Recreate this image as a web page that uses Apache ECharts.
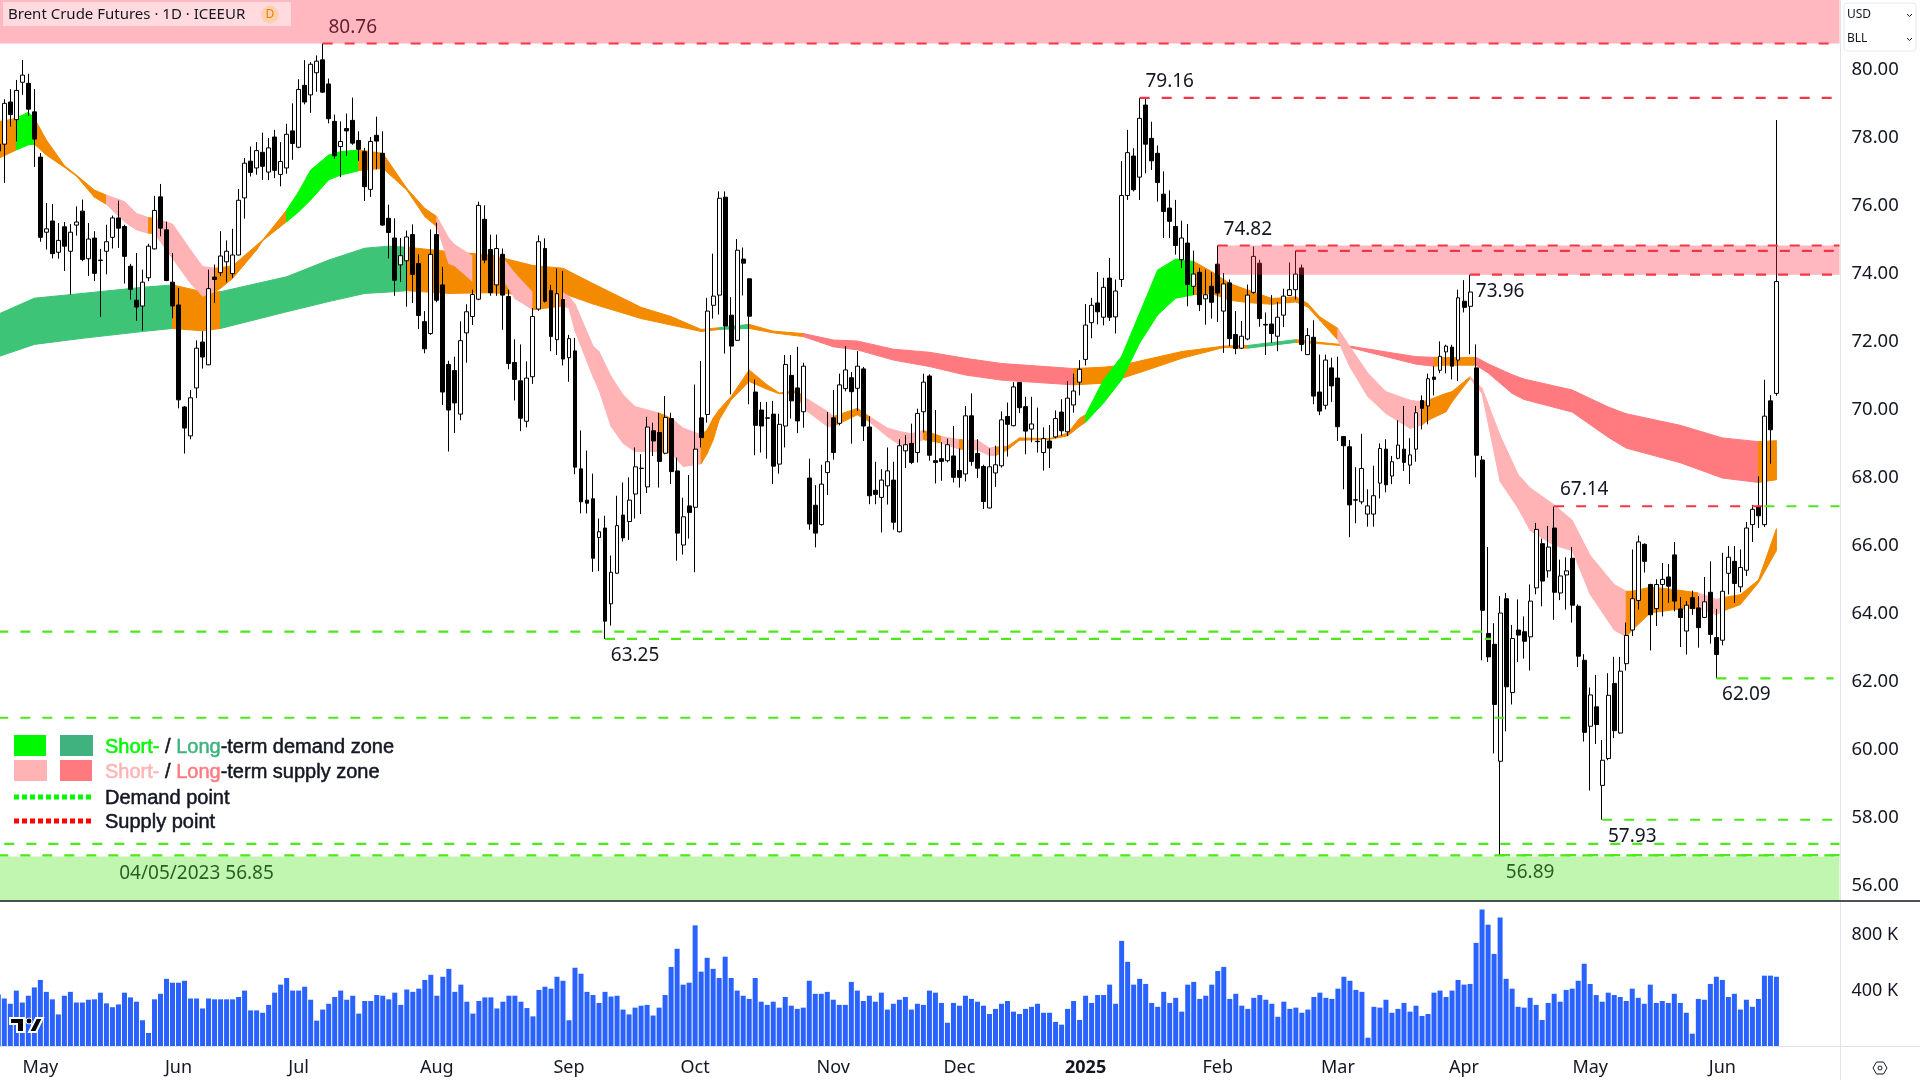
<!DOCTYPE html>
<html>
<head>
<meta charset="utf-8">
<title>Brent Crude Futures</title>
<script src="https://cdn.jsdelivr.net/npm/echarts@6/dist/echarts.min.js"></script>
<style>
  html, body { margin: 0; padding: 0; background: #fff; }
  #chart { width: 1920px; height: 1080px; }
</style>
</head>
<body>
<div id="chart"></div>
<script>
var barCount = 307;

var opens = [
  77.8,77.8,79.04,78.52,79.62,79.59,78.75,77.42,75.21,75.54,
  74.62,75.37,74.65,75.42,75.83,74.43,75.04,74.39,74.65,75.06,
  75.63,75.38,74.21,73.21,73.04,73.87,74.72,76.25,75.28,73.74,
  73.07,70.07,69.22,70.63,71.98,71.31,73.89,74.02,74.34,73.99,
  74.54,76.22,77.3,77.1,77.56,76.98,78.01,76.91,77.1,78.19,
  77.71,79.53,79.25,79.9,80.28,79.57,78.47,77.73,78.26,78.5,
  77.91,77.58,76.47,78.06,77.53,75.62,75.04,74.25,74.37,75.14,
  74.29,72.58,72.23,75.14,73.66,71.32,71.14,69.86,72.25,72.73,
  73.24,75.59,74.7,73.66,74.56,73.32,71.38,70.84,69.65,70.96,
  72.95,74.73,73.49,72.05,73.23,71.52,71.72,68.25,67.33,67.37,
  66.23,66.51,64.28,65.18,66.89,66.7,67.51,68.27,67.72,69.37,
  69.32,68.71,69.73,68.19,66.01,67.16,67.12,69.75,69.85,73.06,
  73.36,76.24,72.77,72.03,74.42,73.84,70.51,69.98,69.75,69.86,
  68.39,69.51,71.0,70.63,69.93,67.98,67.18,66.61,68.14,69.75,
  69.59,70.61,70.93,70.62,71.19,69.48,67.62,67.41,67.75,67.92,
  66.4,68.78,69.0,68.73,69.93,70.98,68.49,68.55,68.49,68.63,
  68.2,68.1,69.81,68.7,68.32,67.1,68.13,68.34,69.79,69.52,
  70.79,70.08,69.42,69.06,68.73,69.07,69.19,69.92,69.34,70.13,
  70.8,71.47,72.55,73.13,72.71,73.86,72.72,73.82,76.29,77.45,
  76.83,78.95,77.97,77.53,76.33,75.92,75.38,74.4,74.89,73.62,
  74.03,73.25,73.62,74.27,72.89,73.72,72.2,71.8,72.07,73.44,
  74.3,72.5,72.51,72.15,72.77,73.35,73.52,74.16,71.61,72.12,
  70.51,70.12,71.22,70.92,69.2,68.9,67.34,67.28,66.92,66.92,
  67.83,68.83,68.04,68.56,68.83,68.36,68.83,70.26,70.1,70.95,
  71.15,71.69,71.83,71.45,73.18,73.03,71.22,68.51,63.41,63.09,
  59.65,64.43,61.67,63.51,63.46,63.31,64.75,66.05,65.25,66.51,
  64.6,65.13,65.62,64.21,62.62,60.68,61.25,58.94,59.73,61.94,
  60.48,62.52,63.51,64.38,66.03,64.85,64.14,64.85,65.07,65.72,
  64.13,63.48,64.46,64.16,63.88,64.62,63.29,63.21,65.18,65.53,
  64.78,65.27,66.61,67.14,66.61,70.25,70.47
];
var closes = [
  77.6,79.0,78.67,79.38,79.83,78.83,77.95,75.06,75.31,74.58,
  74.97,74.8,75.21,75.51,74.41,75.01,74.0,74.38,74.93,75.63,
  75.33,74.5,73.53,73.01,73.74,74.8,75.85,75.33,73.79,73.04,
  70.28,69.45,70.34,71.8,71.54,73.55,73.82,74.51,74.65,74.54,
  76.15,77.24,76.97,77.61,77.15,77.69,77.03,77.29,78.09,77.82,
  79.41,79.04,80.15,80.24,79.33,78.55,77.46,77.88,78.19,77.83,
  77.65,76.55,77.88,77.89,75.42,75.2,73.8,74.52,75.07,73.97,
  72.76,71.78,74.56,73.21,70.51,69.98,70.19,72.02,72.87,73.38,
  76.0,74.39,73.43,74.73,73.36,71.35,70.88,69.74,70.92,72.73,
  74.93,73.18,72.14,73.4,71.48,72.08,68.3,67.28,67.24,65.62,
  66.4,63.77,65.21,66.58,66.22,67.33,68.31,68.26,69.48,69.07,
  68.47,69.76,68.17,66.36,66.84,66.97,68.83,69.17,72.89,73.33,
  76.21,72.45,71.86,74.68,74.3,72.74,69.53,69.51,69.74,68.33,
  69.56,71.32,70.25,69.66,71.27,66.63,66.36,67.8,68.46,68.73,
  70.72,71.16,70.52,71.27,69.51,67.46,67.5,67.92,68.19,66.68,
  68.93,68.96,68.44,69.88,70.8,68.65,68.44,68.47,68.96,68.0,
  68.0,69.81,68.47,68.27,67.29,68.31,68.37,69.69,69.56,70.66,
  70.05,69.36,69.57,69.05,69.14,68.86,69.73,69.37,70.33,70.54,
  71.18,72.48,73.06,72.87,73.59,72.71,73.48,76.29,77.55,76.46,
  78.56,77.8,77.31,76.67,75.82,75.53,74.82,75.04,73.67,73.98,
  73.08,73.37,73.15,73.42,73.69,72.08,71.79,72.15,73.36,74.5,
  72.67,72.48,72.23,72.71,73.33,73.52,73.98,71.91,72.17,70.39,
  69.95,71.45,70.69,69.49,68.93,67.19,67.33,68.26,67.16,67.46,
  68.85,67.78,68.46,68.95,68.44,68.66,69.9,70.03,70.9,70.88,
  71.56,71.86,71.27,73.28,73.0,73.45,68.65,64.09,62.72,61.32,
  64.01,61.84,63.26,63.36,63.18,64.36,66.47,64.95,65.95,64.62,
  65.1,65.25,64.24,62.74,60.5,61.6,60.73,59.68,61.59,60.55,
  62.3,63.35,64.43,66.1,65.53,63.96,64.85,65.0,64.8,64.36,
  63.88,64.24,64.14,63.58,64.34,63.38,62.79,64.65,65.65,64.88,
  65.35,66.51,67.06,66.87,69.8,69.4,73.76
];
var lows = [
  77.3,76.66,78.32,77.88,79.25,78.63,77.13,74.93,74.7,74.44,
  74.43,74.07,73.38,75.11,74.36,73.92,73.77,72.72,73.97,74.73,
  74.75,73.7,73.23,72.6,72.32,73.77,74.7,75.09,73.77,72.68,
  70.03,68.7,69.12,70.33,71.2,71.3,73.13,73.92,73.74,73.87,
  74.53,75.61,76.85,76.9,76.75,76.74,76.8,76.56,76.93,77.34,
  77.68,78.97,78.72,79.34,79.31,78.41,77.37,76.83,77.46,77.78,
  77.31,76.13,76.25,77.06,75.4,74.44,73.34,73.75,73.02,73.13,
  72.36,71.65,72.19,73.15,70.13,68.76,69.3,69.68,71.37,72.48,
  73.21,74.3,73.34,73.34,72.34,71.18,70.26,69.36,69.47,70.75,
  72.9,73.14,71.71,71.6,71.29,70.81,68.09,66.94,66.94,65.22,
  65.24,63.25,63.64,65.16,66.11,66.16,66.79,66.92,67.54,68.63,
  67.7,68.68,67.8,65.55,65.73,66.2,65.21,68.88,69.61,72.67,
  72.79,71.64,70.44,72.01,73.35,70.15,68.65,68.73,68.55,67.8,
  68.11,68.88,69.73,69.3,69.46,66.46,65.94,66.58,67.48,68.52,
  69.53,70.53,68.99,69.95,69.07,67.21,67.21,66.38,67.2,66.46,
  66.38,68.27,68.39,68.44,69.32,68.49,67.82,67.9,68.44,67.85,
  67.7,67.88,68.34,67.98,67.07,67.09,67.72,68.29,68.61,69.5,
  69.89,68.68,69.03,68.73,68.2,68.27,69.15,69.22,69.22,69.9,
  70.41,71.29,72.09,72.5,72.47,72.6,72.23,73.6,76.16,76.41,
  76.16,76.94,77.04,76.11,75.04,75.04,74.55,74.16,73.03,73.37,
  72.89,72.49,72.67,72.57,71.66,71.86,71.62,71.78,72.03,73.4,
  72.43,71.6,71.96,71.71,72.42,73.33,73.23,71.71,71.6,70.15,
  69.83,70.0,70.22,69.07,67.65,66.24,66.65,67.21,66.55,66.55,
  67.38,67.56,67.8,68.53,68.19,67.8,68.46,69.41,69.56,70.41,
  71.06,71.06,70.88,70.83,72.85,71.62,68.0,62.62,62.57,59.88,
  56.89,60.53,61.32,62.57,62.67,62.32,64.56,64.21,65.05,63.81,
  64.39,64.11,63.73,62.42,60.23,58.79,60.16,57.93,59.68,60.33,
  60.46,62.32,63.33,64.11,65.2,62.91,63.63,63.91,64.31,64.06,
  63.01,62.79,63.96,62.99,63.86,63.11,62.09,63.06,64.56,64.31,
  64.62,65.1,66.1,66.51,66.54,68.4,70.4
];
var highs = [
  78.5,79.12,79.42,79.69,80.28,79.87,79.42,77.54,76.07,76.04,
  75.48,75.51,75.45,75.97,76.17,75.48,75.24,74.72,75.43,75.7,
  76.14,75.43,74.28,74.6,74.11,74.87,76.28,76.63,75.52,74.6,
  73.57,70.1,70.57,72.03,72.3,74.11,74.26,75.24,74.97,75.31,
  76.48,77.39,77.73,77.86,78.14,77.98,78.22,77.86,78.4,79.0,
  79.71,80.27,80.21,80.41,80.76,79.73,78.67,78.47,78.7,79.17,
  78.18,77.69,78.01,78.61,78.18,76.02,75.62,75.04,75.26,75.44,
  74.56,72.89,75.29,75.49,74.19,71.43,71.55,72.59,73.09,73.52,
  76.11,76.0,75.14,75.14,74.73,73.52,72.06,71.91,71.41,72.98,
  75.12,75.03,73.66,74.14,74.07,72.19,72.1,69.38,68.79,68.11,
  66.79,66.87,65.7,67.46,67.85,68.0,68.88,68.68,69.78,69.61,
  69.9,70.39,69.9,68.58,67.4,68.07,70.73,71.42,73.28,74.58,
  76.41,76.41,73.3,75.01,74.76,73.85,70.88,70.22,70.22,70.25,
  69.87,71.6,71.6,71.84,71.37,68.55,67.77,68.37,69.92,70.57,
  71.05,71.86,71.1,71.71,71.25,69.8,68.46,68.24,68.88,68.46,
  69.12,69.24,69.58,70.02,71.05,71.03,69.98,69.04,69.14,69.51,
  68.85,70.1,70.47,69.12,68.37,68.85,68.93,69.94,70.2,70.8,
  70.8,70.37,70.37,70.05,69.47,69.54,69.97,70.3,70.83,71.05,
  71.45,73.1,73.28,74.04,73.87,74.45,73.82,77.3,78.22,77.68,
  79.16,79.14,78.46,77.76,77.0,76.44,76.16,75.55,75.45,74.67,
  74.16,74.11,74.03,74.82,74.01,73.82,72.89,72.6,73.67,74.79,
  74.4,72.85,73.36,73.16,73.55,74.32,74.67,74.26,72.39,72.62,
  71.61,71.61,71.52,71.55,69.22,69.1,68.3,69.28,67.65,68.34,
  69.0,69.12,68.63,69.68,70.1,69.15,70.1,70.41,71.05,71.27,
  72.0,71.9,71.9,73.52,73.8,73.96,71.91,68.63,65.95,63.71,
  64.51,64.6,63.66,64.41,63.91,64.85,66.66,66.2,66.57,67.14,
  65.58,65.65,65.95,64.26,62.8,61.82,62.19,60.28,62.24,62.72,
  62.72,63.73,65.88,66.29,66.06,64.87,65.0,65.48,65.45,66.1,
  64.48,64.36,64.67,64.51,65.07,65.53,64.13,65.78,65.98,65.98,
  65.88,66.69,67.19,68.03,70.87,70.42,78.51
];
var volumes = [
  371,343,305,400,314,363,423,477,391,337,
  228,363,391,314,314,334,337,385,308,280,
  300,385,351,320,186,94,337,377,485,457,
  457,471,343,343,271,343,337,337,337,337,
  354,400,257,257,240,297,385,443,491,400,
  400,428,334,183,263,305,354,400,334,363,
  234,325,325,368,363,337,385,297,408,391,
  414,477,514,363,500,557,391,443,320,234,
  325,351,351,271,320,363,363,320,274,214,
  405,428,414,500,471,186,565,522,391,368,
  311,391,357,363,263,228,277,291,297,220,
  277,368,571,702,443,457,871,537,637,557,
  491,645,491,400,363,340,491,320,297,320,
  277,354,291,268,277,471,377,377,391,334,
  297,297,463,400,325,363,320,385,263,305,
  334,354,263,305,297,400,385,311,168,311,
  291,363,340,320,291,231,268,305,325,248,
  231,268,283,305,240,240,174,154,268,325,
  188,363,311,368,368,443,305,759,608,443,
  485,448,311,283,391,311,348,248,443,463,
  340,363,443,542,571,340,377,291,268,348,
  368,334,305,211,320,268,277,240,263,354,
  385,348,340,414,500,471,405,391,60,283,
  277,334,240,268,311,248,291,217,231,385,
  400,354,400,477,443,448,745,985,876,665,
  928,485,414,283,277,348,297,188,311,377,
  320,405,414,471,594,448,368,320,385,368,
  354,325,414,348,305,443,311,325,311,377,
  311,240,89,340,334,448,500,477,354,377,
  263,334,283,340,508,508,500
];

// short-term ribbon, zone index of a point colours the segment starting there
var shortBars = [0,3,5,6,8,11,13,16,18,21,23,25,26,29,32,34,36,37,39,43,44,48,50,52,55,57,60,64,68,71,73,75,76,79,84,86,89,94,95,96,99,100,102,104,106,110,112,114,117,118,119,120,122,125,128,130,133,134,138,139,143,145,148,150,152,154,157,160,161,163,165,166,168,170,175,178,180,181,184,187,190,193,196,199,202,205,208,212,216,218,220,223,225,228,231,235,237,238,241,242,245,247,250,253,255,259,262,265,269,271,272,275,279,283,286,287,290,293,296];
var shortTop = [78.46,78.56,78.74,78.56,77.92,77.17,76.89,76.45,76.3,76.11,75.76,75.64,75.62,75.45,74.69,74.2,74.15,74.17,74.22,74.83,74.98,75.86,76.4,77.04,77.48,77.58,77.63,77.53,76.5,75.91,75.67,75.03,74.84,74.5,74.45,74.0,73.43,73.43,73.32,73.1,71.86,71.7,70.97,70.43,70.08,69.89,69.74,69.45,69.25,69.4,69.74,69.99,70.38,71.16,70.72,70.48,70.55,70.38,69.94,69.79,70.03,69.79,69.45,69.35,69.28,69.38,69.2,69.11,69.1,69.09,68.86,68.89,68.91,69.16,69.14,69.3,69.74,69.84,70.87,71.56,72.83,74.1,74.42,74.35,74.05,73.7,73.51,73.26,73.31,73.11,72.72,72.38,71.84,71.06,70.52,70.27,70.22,70.27,70.47,70.52,70.96,70.62,69.23,68.08,67.69,67.19,66.74,65.7,64.85,64.65,64.65,64.77,64.7,64.6,64.41,64.46,64.55,64.98,66.49];
var shortBottom = [77.38,77.63,77.78,77.8,77.48,77.12,76.86,76.24,76.03,75.52,75.28,75.18,75.18,74.44,73.71,73.33,73.46,73.56,73.85,74.69,74.96,75.52,75.81,76.16,76.75,76.89,77.02,77.09,76.45,75.67,75.37,74.29,74.22,73.75,73.83,73.26,72.93,73.04,72.98,72.31,70.96,70.57,69.5,69.0,68.76,68.76,68.71,68.32,68.4,68.7,69.1,69.69,70.28,70.82,70.59,70.46,70.49,70.03,69.5,69.5,69.84,69.64,69.2,68.96,68.96,69.11,69.01,68.83,68.82,68.81,68.64,68.64,68.81,69.09,69.12,69.22,69.5,69.62,70.19,70.87,71.95,72.78,73.27,73.37,73.41,73.21,73.14,73.09,73.16,73.01,72.62,72.04,71.25,70.37,69.88,69.44,69.54,69.68,69.93,70.22,70.91,70.47,67.88,67.09,66.44,66.0,65.85,64.56,63.51,63.31,63.51,64.01,64.11,64.16,63.96,64.06,64.26,64.9,65.85];
var shortZone = [1,0,0,1,1,1,1,1,2,2,2,1,2,2,2,2,1,1,1,1,1,0,0,0,0,0,1,1,1,1,2,2,2,1,2,2,1,2,2,2,2,2,2,2,2,1,2,2,1,1,1,1,1,1,1,1,1,2,2,1,1,2,2,2,2,1,2,1,2,2,2,1,1,1,1,1,1,0,0,0,0,0,0,1,1,1,1,1,1,1,1,2,2,2,2,2,1,1,1,1,2,2,2,2,2,2,2,2,2,1,1,1,1,2,2,1,1,1,1];

// long-term ribbon
var longBars = [0,6,14,24,29,34,37,48,55,61,65,68,75,82,89,94,99,107,112,117,120,125,129,134,139,143,149,155,161,167,179,184,187,192,197,204,208,216,220,224,225,231,236,239,241,246,248,252,254,262,268,271,280,287,293,296];
var longTop = [72.8,73.27,73.41,73.59,73.66,73.46,73.46,73.9,74.39,74.74,74.8,74.77,74.64,74.54,74.23,74.15,73.7,73.0,72.73,72.35,72.4,72.5,72.3,72.23,72.04,72.01,71.77,71.68,71.5,71.35,71.2,71.24,71.3,71.5,71.7,71.86,71.88,72.05,71.97,71.9,71.86,71.69,71.55,71.53,71.52,71.53,71.34,71.02,70.89,70.57,70.07,69.87,69.53,69.16,69.05,69.08];
var longBottom = [71.55,71.91,72.09,72.29,72.38,72.31,72.38,72.87,73.17,73.41,73.45,73.49,73.41,73.43,73.36,73.41,73.1,72.67,72.48,72.29,72.35,72.38,72.25,72.14,71.84,71.75,71.45,71.26,71.01,70.86,70.72,70.77,70.91,71.2,71.5,71.82,71.8,71.97,71.93,71.87,71.82,71.55,71.33,71.27,71.3,71.3,71.07,70.47,70.29,69.92,69.18,68.86,68.43,67.98,67.85,67.93];
var longZone = [3,3,3,3,1,1,3,3,3,3,3,1,1,1,1,1,1,1,1,1,3,1,1,4,4,4,4,4,4,4,1,1,1,1,1,1,3,1,1,1,4,4,4,1,1,4,4,4,4,4,4,4,4,4,1,1];

var priceTicks = [56,58,60,62,64,66,68,70,72,74,76,78,80];
var volumeTicks = [400,800];
var timeBars = [7,30,50,73,95,116,139,160,181,203,223,244,265,287];
var timeLabels = ["May","Jun","Jul","Aug","Sep","Oct","Nov","Dec","2025","Feb","Mar","Apr","May","Jun"];

// printed numbers: bar under the text, level the text sits on, the text
var noteBars = [59,195,208,250,264,106,291,272,255,33];
var noteLevels = [81.24,79.64,75.30,73.46,67.63,62.75,61.60,57.42,56.39,56.36];
var noteTexts = ["80.76","79.16","74.82","73.96","67.14","63.25","62.09","57.93","56.89","04/05/2023 56.85"];

// flat zones over the candles: start bar, top, bottom, kind
var zoneFrom = [0,203,0];
var zoneTop = [82.04,74.82,56.85];
var zoneBottom = [80.76,73.96,55.54];
var zoneKind = [0,0,1];

// dashed levels: price, first bar, last bar, kind (0 supply, 1 demand)
var levelPrice = [80.76,79.16,74.82,74.66,73.96,67.15,67.15,63.46,63.25,62.09,60.93,57.93,57.22,56.88,56.89];
var levelFrom = [54,190,203,216,245,259,294,0,101,286,0,267,1,0,250];
var levelTo = [306,305,306,306,306,294,306,247,248,305,262,305,306,306,306];
var levelKind = [0,0,0,0,0,0,1,1,1,1,1,1,1,1,1];

var ribbonColors = ["#00f800","#f48a00","#ffb3b5","#3dc476","#ff7a7f"];
var zoneColors = ["rgba(255,45,70,0.34)","rgba(76,230,30,0.35)"];
var levelColors = ["#f23645","#4ce81a"];
var textFont = "Noto Sans";

var categories = [];
for (var i = 0; i < barCount; i++) categories.push(String(i));

var candleData = opens.map(function (o, i) {
  return [o, closes[i], lows[i], highs[i]];
});

function ribbonSegments(bars, top, bottom, zone) {
  var out = [];
  for (var i = 0; i < bars.length - 1; i++) {
    out.push([bars[i], top[i], bottom[i], bars[i + 1], top[i + 1], bottom[i + 1], zone[i]]);
  }
  return out;
}

function renderRibbon(params, api) {
  var a = api.coord([api.value(0), api.value(1)]);
  var b = api.coord([api.value(3), api.value(4)]);
  var c = api.coord([api.value(3), api.value(5)]);
  var d = api.coord([api.value(0), api.value(2)]);
  var color = ribbonColors[api.value(6)];
  return {
    type: "polygon",
    shape: { points: [a, b, c, d] },
    style: { fill: color, stroke: color, lineWidth: 1 }
  };
}

function renderZone(params, api) {
  var sys = params.coordSys;
  var start = api.value(0);
  var p1 = api.coord([start, api.value(1)]);
  var p2 = api.coord([start, api.value(2)]);
  var x0 = start === 0 ? 0 : p1[0];
  return {
    type: "rect",
    shape: { x: x0, y: p1[1], width: sys.x + sys.width - x0, height: p2[1] - p1[1] },
    style: { fill: zoneColors[api.value(3)] }
  };
}

function renderLevel(params, api) {
  var p1 = api.coord([api.value(1), api.value(0)]);
  var p2 = api.coord([api.value(2), api.value(0)]);
  return {
    type: "line",
    shape: { x1: p1[0], y1: p1[1], x2: p2[0] + 3, y2: p2[1] },
    style: { stroke: levelColors[api.value(3)], lineWidth: 2.2, lineDash: [10, 12] }
  };
}

var myChart = echarts.init(document.getElementById("chart"));
myChart.setOption({
  animation: false,
  backgroundColor: "#ffffff",
  textStyle: { fontFamily: textFont },
  grid: [
    { left: -4.7, top: 0, width: 1844.2, height: 901, outerBoundsMode: "none" },
    { left: -4.7, top: 901, width: 1844.2, height: 145, outerBoundsMode: "none" }
  ],
  xAxis: [
    { type: "category", gridIndex: 0, data: categories, show: false },
    {
      type: "category",
      gridIndex: 1,
      data: categories,
      axisLine: { show: false },
      axisTick: { show: false },
      splitLine: { show: false },
      axisLabel: {
        interval: function (index) { return timeBars.indexOf(index) >= 0; },
        hideOverlap: false,
        margin: 13,
        color: "#131722",
        fontSize: 18,
        fontFamily: textFont,
        formatter: function (value, index) {
          var t = timeLabels[timeBars.indexOf(index)];
          return t === "2025" ? "{b|" + t + "}" : t;
        },
        rich: { b: { fontWeight: "bold", fontSize: 18, color: "#131722", fontFamily: textFont } }
      }
    }
  ],
  yAxis: [
    {
      type: "value",
      gridIndex: 0,
      position: "right",
      min: 55.54,
      max: 82.04,
      axisLine: { show: false },
      axisTick: { show: false },
      splitLine: { show: false },
      axisLabel: {
        customValues: priceTicks,
        margin: 12,
        padding: [6, 0, 0, 0],
        color: "#131722",
        fontSize: 18.5,
        fontFamily: textFont,
        formatter: function (v) { return v.toFixed(2); }
      }
    },
    {
      type: "value",
      gridIndex: 1,
      position: "right",
      min: 0,
      max: 1047,
      axisLine: { show: false },
      axisTick: { show: false },
      splitLine: { show: false },
      axisLabel: {
        customValues: volumeTicks,
        margin: 12,
        padding: [6, 0, 0, 0],
        color: "#131722",
        fontSize: 18,
        fontFamily: textFont,
        formatter: function (v) { return v + " K"; }
      }
    }
  ],
  series: [
    {
      name: "Long ribbon",
      type: "custom",
      z: 1,
      silent: true,
      renderItem: renderRibbon,
      encode: { x: [0, 3], y: [1, 2, 4, 5] },
      data: ribbonSegments(longBars, longTop, longBottom, longZone)
    },
    {
      name: "Short ribbon",
      type: "custom",
      z: 2,
      silent: true,
      renderItem: renderRibbon,
      encode: { x: [0, 3], y: [1, 2, 4, 5] },
      data: ribbonSegments(shortBars, shortTop, shortBottom, shortZone)
    },
    {
      name: "Brent",
      type: "candlestick",
      z: 5,
      silent: true,
      barWidth: 4.4,
      itemStyle: {
        color: "#ffffff",
        color0: "#000000",
        borderColor: "#000000",
        borderColor0: "#000000",
        borderWidth: 1
      },
      data: candleData
    },
    {
      name: "Notes",
      type: "scatter",
      z: 6,
      silent: true,
      symbolSize: 1,
      itemStyle: { color: "rgba(0,0,0,0)", opacity: 1 },
      label: {
        show: true,
        position: "inside",
        color: "#131722",
        fontSize: 19,
        fontFamily: textFont,
        formatter: function (p) { return noteTexts[p.dataIndex]; }
      },
      data: noteBars.map(function (b, i) { return [b, noteLevels[i]]; })
    },
    {
      name: "Zones",
      type: "custom",
      z: 8,
      silent: true,
      renderItem: renderZone,
      encode: { x: 0, y: [1, 2] },
      data: zoneFrom.map(function (b, i) { return [b, zoneTop[i], zoneBottom[i], zoneKind[i]]; })
    },
    {
      name: "Levels",
      type: "custom",
      z: 9,
      silent: true,
      renderItem: renderLevel,
      encode: { x: [1, 2], y: 0 },
      data: levelPrice.map(function (p, i) { return [p, levelFrom[i], levelTo[i], levelKind[i]]; })
    },
    {
      name: "Volume",
      type: "bar",
      xAxisIndex: 1,
      yAxisIndex: 1,
      silent: true,
      barWidth: 5,
      itemStyle: { color: "#2962ff" },
      data: volumes
    }
  ],
  graphic: [
    // panes and frame
    { type: "line", z: 50, shape: { x1: 1840.5, y1: 0, x2: 1840.5, y2: 1080 }, style: { stroke: "#e0e3eb", lineWidth: 1 } },
    { type: "line", z: 50, shape: { x1: 0, y1: 901, x2: 1920, y2: 901 }, style: { stroke: "#131722", lineWidth: 1.5 } },
    { type: "line", z: 50, shape: { x1: 0, y1: 1046.5, x2: 1920, y2: 1046.5 }, style: { stroke: "#e0e3eb", lineWidth: 1 } },
    // title chip
    { type: "rect", z: 50, shape: { x: 3, y: 2, width: 288, height: 24 }, style: { fill: "rgba(255,255,255,0.5)" } },
    { type: "text", z: 51, x: 8, y: 14.7, style: { text: "Brent Crude Futures · 1D · ICEEUR", fill: "#131722", fontFamily: textFont, fontSize: 15, verticalAlign: "middle" } },
    { type: "circle", z: 51, shape: { cx: 270, cy: 14.7, r: 9 }, style: { fill: "#fdd0b0" } },
    { type: "text", z: 52, x: 270, y: 14.7, style: { text: "D", fill: "#f57c00", fontFamily: textFont, fontSize: 12, align: "center", verticalAlign: "middle" } },
    // currency and unit box
    { type: "rect", z: 50, shape: { x: 1844, y: 3, width: 72, height: 48, r: 3 }, style: { fill: "#ffffff", stroke: "#e8eaf0", lineWidth: 1 } },
    { type: "text", z: 51, x: 1847, y: 14.7, style: { text: "USD", fill: "#131722", fontFamily: textFont, fontSize: 12, verticalAlign: "middle" } },
    { type: "text", z: 51, x: 1847, y: 38.7, style: { text: "BLL", fill: "#131722", fontFamily: textFont, fontSize: 12, verticalAlign: "middle" } },
    { type: "polyline", z: 51, shape: { points: [[1907, 14], [1909.5, 16.5], [1912, 14]] }, style: { stroke: "#131722", lineWidth: 1, fill: null } },
    { type: "polyline", z: 51, shape: { points: [[1907, 38], [1909.5, 40.5], [1912, 38]] }, style: { stroke: "#131722", lineWidth: 1, fill: null } },
    // legend
    { type: "rect", z: 50, shape: { x: 14, y: 735, width: 32, height: 21 }, style: { fill: "#00f800" } },
    { type: "rect", z: 50, shape: { x: 60, y: 735, width: 33, height: 21 }, style: { fill: "#3fb27f" } },
    { type: "rect", z: 50, shape: { x: 14, y: 760, width: 33, height: 21 }, style: { fill: "#ffb3b5" } },
    { type: "rect", z: 50, shape: { x: 60, y: 760, width: 32, height: 21 }, style: { fill: "#ff7a7f" } },
    { type: "line", z: 50, shape: { x1: 14, y1: 797, x2: 92, y2: 797 }, style: { stroke: "#00f800", lineWidth: 5, lineDash: [5, 3] } },
    { type: "line", z: 50, shape: { x1: 14, y1: 821, x2: 92, y2: 821 }, style: { stroke: "#ff0000", lineWidth: 5, lineDash: [5, 3] } },
    {
      type: "text", z: 51, x: 105, y: 747,
      style: {
        text: "{g|Short-} {k|/} {d|Long}{k|-term demand zone}",
        fontFamily: "Liberation Sans", fontSize: 20, verticalAlign: "middle",
        rich: {
          g: { fill: "#00f800", stroke: "#00f800", lineWidth: 0.5, fontFamily: "Liberation Sans", fontSize: 20 },
          d: { fill: "#3fb27f", stroke: "#3fb27f", lineWidth: 0.5, fontFamily: "Liberation Sans", fontSize: 20 },
          k: { fill: "#131722", stroke: "#131722", lineWidth: 0.5, fontFamily: "Liberation Sans", fontSize: 20 }
        }
      }
    },
    {
      type: "text", z: 51, x: 105, y: 772.6,
      style: {
        text: "{g|Short-} {k|/} {d|Long}{k|-term supply zone}",
        fontFamily: "Liberation Sans", fontSize: 20, verticalAlign: "middle",
        rich: {
          g: { fill: "#ffb3b5", stroke: "#ffb3b5", lineWidth: 0.5, fontFamily: "Liberation Sans", fontSize: 20 },
          d: { fill: "#ff7a7f", stroke: "#ff7a7f", lineWidth: 0.5, fontFamily: "Liberation Sans", fontSize: 20 },
          k: { fill: "#131722", stroke: "#131722", lineWidth: 0.5, fontFamily: "Liberation Sans", fontSize: 20 }
        }
      }
    },
    { type: "text", z: 51, x: 105, y: 798.5, style: { text: "Demand point", fill: "#131722", stroke: "#131722", lineWidth: 0.5, fontFamily: "Liberation Sans", fontSize: 20, verticalAlign: "middle" } },
    { type: "text", z: 51, x: 105, y: 822.6, style: { text: "Supply point", fill: "#131722", stroke: "#131722", lineWidth: 0.5, fontFamily: "Liberation Sans", fontSize: 20, verticalAlign: "middle" } },
    // logo
    { type: "polygon", z: 51, shape: { points: [[10, 1018], [24, 1018], [24, 1032], [17, 1032], [17, 1024], [10, 1024]] }, style: { fill: "#000", stroke: "#fff", lineWidth: 2 } },
    { type: "circle", z: 51, shape: { cx: 29, cy: 1021, r: 3 }, style: { fill: "#000", stroke: "#fff", lineWidth: 1 } },
    { type: "polygon", z: 51, shape: { points: [[36, 1018], [43, 1018], [36, 1032], [29, 1032]] }, style: { fill: "#000", stroke: "#fff", lineWidth: 2 } },
    // settings glyph
    { type: "polygon", z: 51, shape: { points: [[1873, 1068], [1876.5, 1062], [1883.5, 1062], [1887, 1068], [1883.5, 1074], [1876.5, 1074]] }, style: { fill: "none", stroke: "#131722", lineWidth: 1 } },
    { type: "circle", z: 51, shape: { cx: 1880, cy: 1068, r: 2 }, style: { fill: "none", stroke: "#131722", lineWidth: 1 } }
  ]
});

window.addEventListener("resize", function () {
  myChart.resize();
});
</script>
</body>
</html>
